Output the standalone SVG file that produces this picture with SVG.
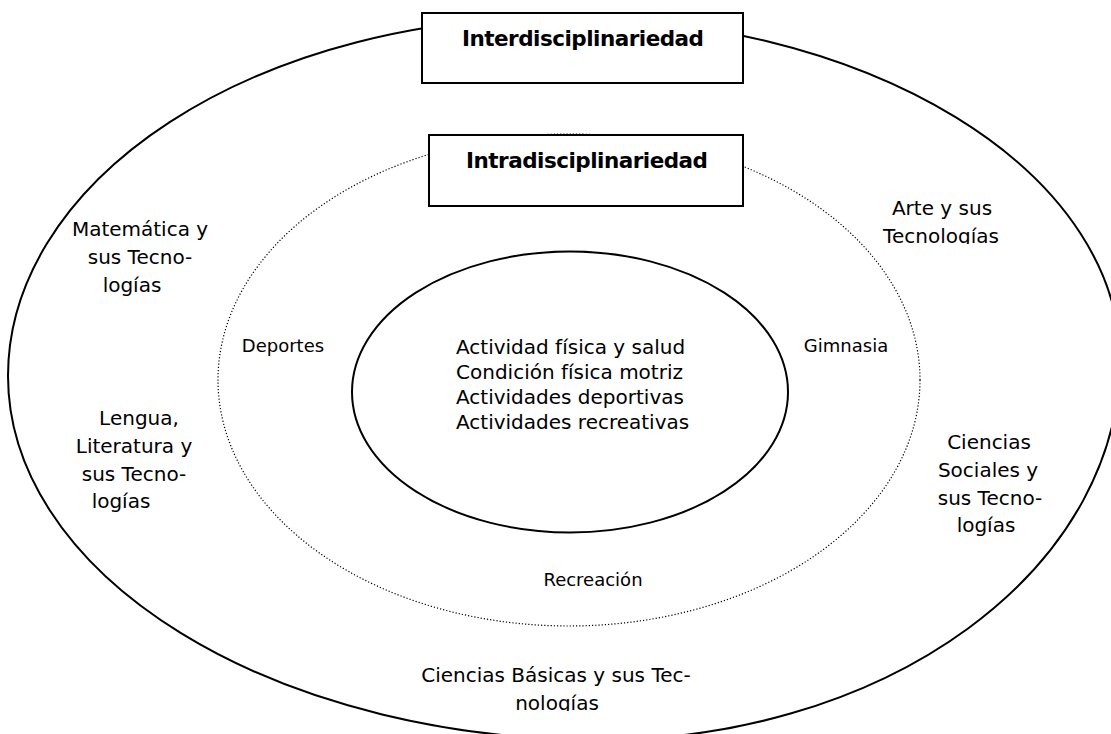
<svg xmlns="http://www.w3.org/2000/svg" width="1111" height="734" viewBox="0 0 1111 734">
  <style>
    .ring { fill: none; stroke: #000; }
    .solid { stroke-width: 2; }
    .dotted { stroke-width: 1.2; stroke-dasharray: 1.2 2; }
    .box { fill: #fff; stroke: #000; stroke-width: 2; }
    .title { font-family: "DejaVu Sans", Verdana, sans-serif; font-weight: bold; font-size: 21.5px; fill: #000; text-anchor: middle; }
    .lbl { font-family: "DejaVu Sans", Verdana, sans-serif; font-size: 20px; fill: #000; text-anchor: middle; }
    .core { font-family: "DejaVu Sans", Verdana, sans-serif; font-size: 20px; fill: #000; }
    .sub { font-family: "DejaVu Sans", Verdana, sans-serif; font-size: 18px; fill: #000; text-anchor: middle; }
  </style>
  <defs>
    <clipPath id="cut-arte"><rect x="860" y="180" width="170" height="64"/></clipPath>
    <clipPath id="cut-basicas"><rect x="380" y="650" width="360" height="61"/></clipPath>
  </defs>
  <rect width="1111" height="734" fill="#fff"/>

  <!-- concentric rings: outer ring built from four quarter arcs, it runs past the right and bottom edges -->
  <g id="rings">
    <path class="ring solid" d="M 8 376 A 552 359 0 0 1 560 17 A 560 343 0 0 1 1120 360 A 520 380 0 0 1 600 740 A 592 364 0 0 1 8 376 Z"/>
    <ellipse class="ring dotted" cx="569" cy="380" rx="351" ry="246"/>
    <ellipse class="ring solid" cx="570" cy="392" rx="218" ry="140.5"/>
  </g>

  <!-- title boxes -->
  <g id="inter">
    <rect class="box" x="422" y="13" width="321" height="70"/>
    <text class="title" x="583" y="46" textLength="242" lengthAdjust="spacing">Interdisciplinariedad</text>
  </g>
  <g id="intra">
    <rect class="box" x="429" y="135" width="314" height="71"/>
    <text class="title" x="587" y="168" textLength="242" lengthAdjust="spacing">Intradisciplinariedad</text>
  </g>

  <!-- core contents -->
  <g id="core">
    <text class="core" x="456" y="354">Actividad física y salud</text>
    <text class="core" x="456" y="379">Condición física motriz</text>
    <text class="core" x="456" y="404">Actividades deportivas</text>
    <text class="core" x="456" y="429">Actividades recreativas</text>
  </g>

  <!-- intradisciplinary areas -->
  <g id="deportes"><text class="sub" x="283" y="352">Deportes</text></g>
  <g id="gimnasia"><text class="sub" x="846" y="352">Gimnasia</text></g>
  <g id="recreacion"><text class="sub" x="593" y="586">Recreación</text></g>

  <!-- interdisciplinary areas -->
  <g id="matematica">
    <text class="lbl" x="140" y="236">Matemática y</text>
    <text class="lbl" x="140" y="264">sus Tecno-</text>
    <text class="lbl" x="132" y="292">logías</text>
  </g>
  <g id="lengua">
    <text class="lbl" x="139" y="425">Lengua,</text>
    <text class="lbl" x="134" y="453">Literatura y</text>
    <text class="lbl" x="134" y="481">sus Tecno-</text>
    <text class="lbl" x="121" y="508">logías</text>
  </g>
  <g id="arte">
    <text class="lbl" x="942" y="215">Arte y sus</text>
    <text class="lbl" x="941" y="243" clip-path="url(#cut-arte)">Tecnologías</text>
  </g>
  <g id="sociales">
    <text class="lbl" x="989" y="449">Ciencias</text>
    <text class="lbl" x="988" y="477">Sociales y</text>
    <text class="lbl" x="990" y="505">sus Tecno-</text>
    <text class="lbl" x="986" y="532">logías</text>
  </g>
  <g id="basicas" clip-path="url(#cut-basicas)">
    <text class="lbl" x="556" y="682">Ciencias Básicas y sus Tec-</text>
    <text class="lbl" x="557" y="710">nologías</text>
  </g>
</svg>
